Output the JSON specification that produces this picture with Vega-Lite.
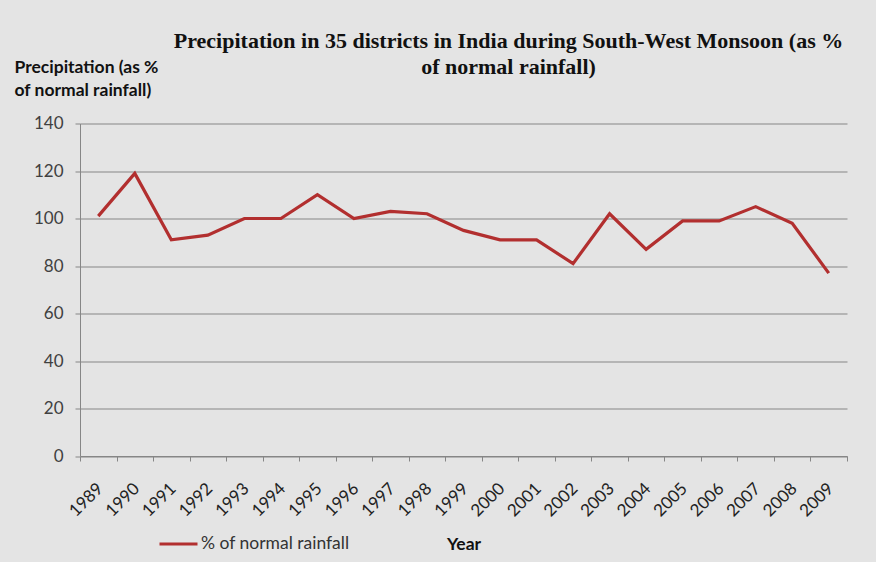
{
  "$schema": "https://vega.github.io/schema/vega-lite/v6.json",
  "width": 767,
  "height": 332.5,
  "autosize": {"type": "none"},
  "padding": {"left": 80, "top": 123.5, "right": 29, "bottom": 106},
  "background": "#e4e4e4",
  "title": {
    "text": ["Precipitation in 35 districts in India during South-West Monsoon (as %", "of normal rainfall)"],
    "font": "Liberation Serif",
    "fontSize": 22,
    "fontWeight": "bold",
    "color": "#111111",
    "anchor": "middle",
    "dx": 45,
    "offset": -20,
    "lineHeight": 26
  },
  "data": {
    "values": [
      {"Year": "1989", "value": 101, "series": "% of normal rainfall"},
      {"Year": "1990", "value": 119, "series": "% of normal rainfall"},
      {"Year": "1991", "value": 91, "series": "% of normal rainfall"},
      {"Year": "1992", "value": 93, "series": "% of normal rainfall"},
      {"Year": "1993", "value": 100, "series": "% of normal rainfall"},
      {"Year": "1994", "value": 100, "series": "% of normal rainfall"},
      {"Year": "1995", "value": 110, "series": "% of normal rainfall"},
      {"Year": "1996", "value": 100, "series": "% of normal rainfall"},
      {"Year": "1997", "value": 103, "series": "% of normal rainfall"},
      {"Year": "1998", "value": 102, "series": "% of normal rainfall"},
      {"Year": "1999", "value": 95, "series": "% of normal rainfall"},
      {"Year": "2000", "value": 91, "series": "% of normal rainfall"},
      {"Year": "2001", "value": 91, "series": "% of normal rainfall"},
      {"Year": "2002", "value": 81, "series": "% of normal rainfall"},
      {"Year": "2003", "value": 102, "series": "% of normal rainfall"},
      {"Year": "2004", "value": 87, "series": "% of normal rainfall"},
      {"Year": "2005", "value": 99, "series": "% of normal rainfall"},
      {"Year": "2006", "value": 99, "series": "% of normal rainfall"},
      {"Year": "2007", "value": 105, "series": "% of normal rainfall"},
      {"Year": "2008", "value": 98, "series": "% of normal rainfall"},
      {"Year": "2009", "value": 77, "series": "% of normal rainfall"}
    ]
  },
  "mark": {"type": "line", "strokeWidth": 3.2, "strokeJoin": "miter"},
  "encoding": {
    "x": {
      "field": "Year",
      "type": "ordinal",
      "scale": {"type": "band", "paddingInner": 0, "paddingOuter": 0},
      "axis": {
        "title": "Year",
        "titleFont": "Lato",
        "titleFontSize": 17.5,
        "titleFontWeight": "bold",
        "titleColor": "#111111",
        "titleY": 88,
        "titleBaseline": "middle",
        "labelAngle": -45,
        "labelFont": "Lato",
        "labelFontSize": 17,
        "labelColor": "#222222",
        "labelPadding": 19,
        "labelOffset": -4,
        "tickBand": "extent",
        "tickSize": 5,
        "tickColor": "#868686",
        "domainColor": "#868686",
        "grid": false
      }
    },
    "y": {
      "field": "value",
      "type": "quantitative",
      "scale": {"domain": [0, 140], "nice": false},
      "axis": {
        "values": [0, 20, 40, 60, 80, 100, 120, 140],
        "title": ["Precipitation (as %", "of normal rainfall)"],
        "titleFont": "Lato",
        "titleFontSize": 17.5,
        "titleFontWeight": "bold",
        "titleColor": "#111111",
        "titleAngle": 0,
        "titleAlign": "left",
        "titleBaseline": "top",
        "titleX": -66,
        "titleY": -65,
        "titleLineHeight": 22.5,
        "labelFont": "Lato",
        "labelFontSize": 17,
        "labelColor": "#404040",
        "labelPadding": 12,
        "tickSize": 5,
        "tickColor": "#868686",
        "domainColor": "#868686",
        "gridColor": "#868686",
        "gridWidth": 1
      }
    },
    "color": {
      "field": "series",
      "type": "nominal",
      "scale": {"range": ["#b22f2f"]},
      "legend": {
        "title": null,
        "orient": "none",
        "legendX": 78,
        "legendY": 400,
        "symbolType": "stroke",
        "symbolSize": 1444,
        "symbolStrokeWidth": 3,
        "labelFont": "Lato",
        "labelFontSize": 17.5,
        "labelColor": "#333333",
        "labelOffset": 2,
        "padding": 0
      }
    }
  },
  "config": {
    "view": {"stroke": null},
    "axis": {"domainWidth": 1, "tickWidth": 1}
  }
}
